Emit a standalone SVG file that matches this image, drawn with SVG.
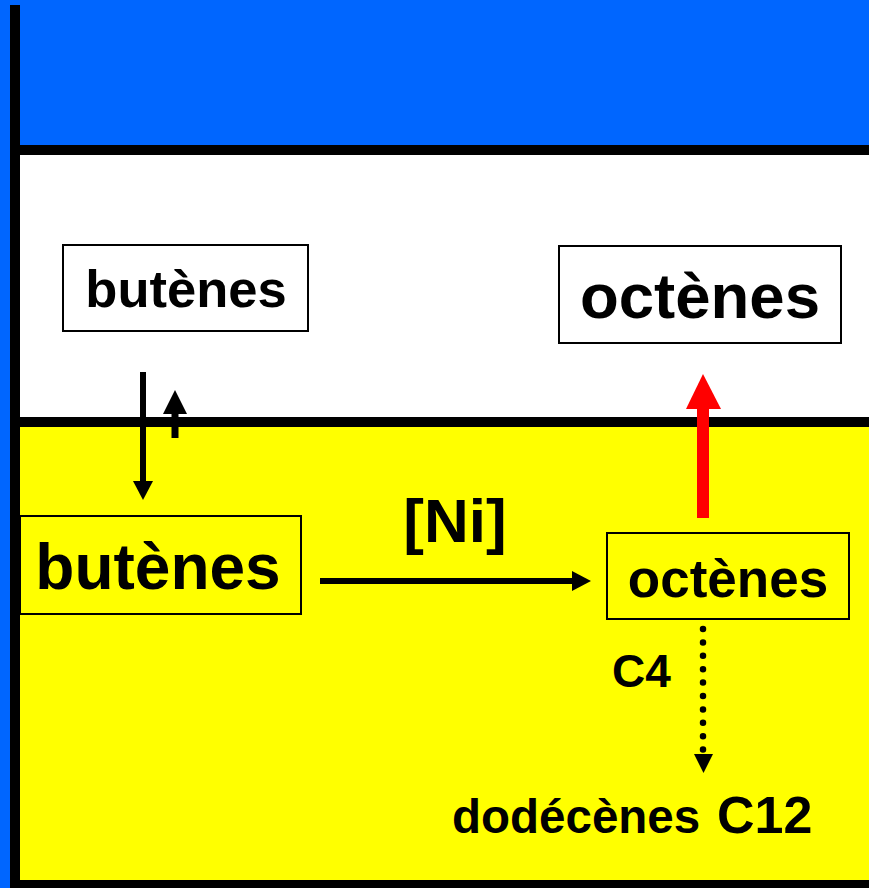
<svg xmlns="http://www.w3.org/2000/svg" width="869" height="888" viewBox="0 0 869 888">
<style>
.t{font-family:"Liberation Sans",Arial,sans-serif;font-weight:bold;fill:#000}
.box{stroke:#000;stroke-width:2}
</style>
<rect x="0" y="0" width="869" height="888" fill="#0066FF"/>
<rect x="20" y="155" width="849" height="262" fill="#FFFFFF"/>
<rect x="20" y="427" width="849" height="453" fill="#FFFF00"/>
<g id="frame" fill="#000">
<rect x="10" y="5" width="10" height="883"/>
<rect x="10" y="145" width="859" height="10"/>
<rect x="10" y="417" width="859" height="10"/>
<rect x="10" y="880" width="859" height="8"/>
</g>
<g id="butenes-top">
<rect class="box" x="63" y="245" width="245" height="86" fill="#FFFFFF"/>
<text class="t" x="186" y="307" font-size="52.5" text-anchor="middle">butènes</text>
</g>
<g id="octenes-top">
<rect class="box" x="559" y="246" width="282" height="97" fill="#FFFFFF"/>
<text class="t" x="700" y="318" font-size="63.5" text-anchor="middle">octènes</text>
</g>
<g id="butenes-bottom">
<rect class="box" x="20" y="516" width="281" height="98" fill="#FFFF00"/>
<text class="t" x="158" y="589" font-size="64" text-anchor="middle">butènes</text>
</g>
<g id="octenes-bottom">
<rect class="box" x="607" y="533" width="242" height="86" fill="#FFFF00"/>
<text class="t" x="728" y="597" font-size="53" text-anchor="middle">octènes</text>
</g>
<g id="dodecenes">
<text class="t" x="452" y="833" font-size="47.5">dodécènes</text>
<text class="t" x="717" y="833" font-size="52">C12</text>
</g>
<g id="connectors">
<line x1="143" y1="372" x2="143" y2="484" stroke="#000" stroke-width="6"/>
<path d="M133,481 L153,481 L143,500 Z" fill="#000"/>
<line x1="175" y1="438" x2="175" y2="410" stroke="#000" stroke-width="7"/>
<path d="M163,414 L187,414 L175,390 Z" fill="#000"/>
<line x1="320" y1="581" x2="575" y2="581" stroke="#000" stroke-width="6"/>
<path d="M572,571 L591,581 L572,591 Z" fill="#000"/>
<text class="t" x="455" y="542" font-size="62" text-anchor="middle">[Ni]</text>
<line x1="703" y1="518" x2="703" y2="405" stroke="#FF0000" stroke-width="12"/>
<path d="M686,409 L721,409 L703,374 Z" fill="#FF0000"/>
<line x1="703" y1="629" x2="703" y2="752" stroke="#000" stroke-width="6.5" stroke-linecap="round" stroke-dasharray="0 13.4"/>
<path d="M694,754 L713,754 L703.5,773 Z" fill="#000"/>
<text class="t" x="612" y="687" font-size="46">C4</text>
</g>
</svg>
